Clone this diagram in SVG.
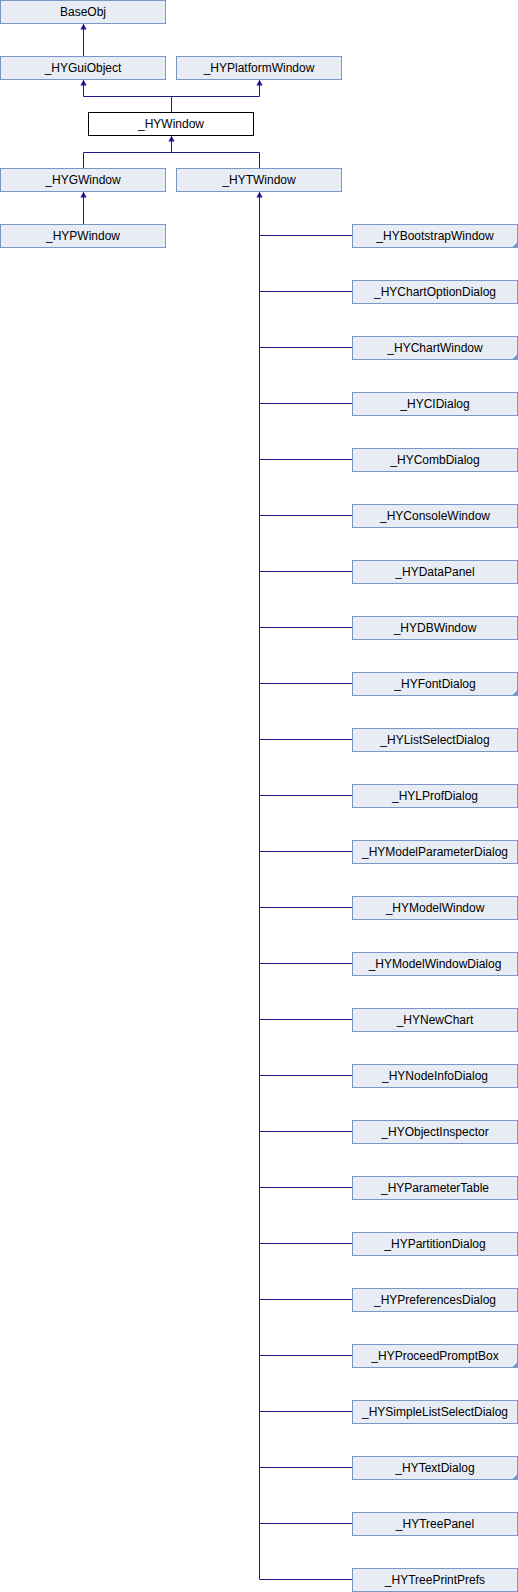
<svg xmlns="http://www.w3.org/2000/svg" width="518" height="1592" viewBox="0 0 518 1592">
<style>
.n rect{fill:#e8ecf4;stroke:#7b96c8;stroke-width:1}
.n.cur rect{fill:#ffffff;stroke:#000000}
.n text{font-family:"Liberation Sans",Arial,sans-serif;font-size:12px;fill:#000;text-anchor:middle}
.tri{fill:#7b96c8}
#edges path{fill:none;stroke:#1a1a8a;stroke-width:1}
#edges polygon{fill:#1a1a8a}
</style>
<rect width="518" height="1592" fill="#ffffff"/>
<g id="edges">
<path d="M83.5 56 V28"/><polygon points="83.5,23.5 80.5,29.5 86.5,29.5"/>
<path d="M171.5 112 V96.5 M83.5 96.5 H259.5 M83.5 96.5 V84 M259.5 96.5 V84"/>
<polygon points="83.5,79.5 80.5,85.5 86.5,85.5"/><polygon points="259.5,79.5 256.5,85.5 262.5,85.5"/>
<path d="M83.5 168 V152.5 H259.5 V168 M171.5 152.5 V140"/>
<polygon points="171.5,135.5 168.5,141.5 174.5,141.5"/>
<path d="M83.5 224 V196"/><polygon points="83.5,191.5 80.5,197.5 86.5,197.5"/>
<path d="M259.5 1579.5 V196"/><polygon points="259.5,191.5 256.5,197.5 262.5,197.5"/>
<path d="M259.5 235.5 H352 M259.5 291.5 H352 M259.5 347.5 H352 M259.5 403.5 H352 M259.5 459.5 H352 M259.5 515.5 H352 M259.5 571.5 H352 M259.5 627.5 H352 M259.5 683.5 H352 M259.5 739.5 H352 M259.5 795.5 H352 M259.5 851.5 H352 M259.5 907.5 H352 M259.5 963.5 H352 M259.5 1019.5 H352 M259.5 1075.5 H352 M259.5 1131.5 H352 M259.5 1187.5 H352 M259.5 1243.5 H352 M259.5 1299.5 H352 M259.5 1355.5 H352 M259.5 1411.5 H352 M259.5 1467.5 H352 M259.5 1523.5 H352 M259.5 1579.5 H352"/>
</g>
<g id="BaseObj" class="n"><rect x="0.5" y="0.5" width="165" height="23"/><text x="83" y="16">BaseObj</text></g>
<g id="HYGuiObject" class="n"><rect x="0.5" y="56.5" width="165" height="23"/><text x="83" y="72">_HYGuiObject</text></g>
<g id="HYPlatformWindow" class="n"><rect x="176.5" y="56.5" width="165" height="23"/><text x="259" y="72">_HYPlatformWindow</text></g>
<g id="HYWindow" class="n cur"><rect x="88.5" y="112.5" width="165" height="23"/><text x="171" y="128">_HYWindow</text></g>
<g id="HYGWindow" class="n"><rect x="0.5" y="168.5" width="165" height="23"/><text x="83" y="184">_HYGWindow</text></g>
<g id="HYTWindow" class="n"><rect x="176.5" y="168.5" width="165" height="23"/><text x="259" y="184">_HYTWindow</text></g>
<g id="HYPWindow" class="n"><rect x="0.5" y="224.5" width="165" height="23"/><text x="83" y="240">_HYPWindow</text></g>
<g id="HYBootstrapWindow" class="n"><rect x="352.5" y="224.5" width="165" height="23"/><text x="435" y="240">_HYBootstrapWindow</text><polygon class="tri" points="512,247.5 517.5,242 517.5,247.5"/></g>
<g id="HYChartOptionDialog" class="n"><rect x="352.5" y="280.5" width="165" height="23"/><text x="435" y="296">_HYChartOptionDialog</text></g>
<g id="HYChartWindow" class="n"><rect x="352.5" y="336.5" width="165" height="23"/><text x="435" y="352">_HYChartWindow</text><polygon class="tri" points="512,359.5 517.5,354 517.5,359.5"/></g>
<g id="HYCIDialog" class="n"><rect x="352.5" y="392.5" width="165" height="23"/><text x="435" y="408">_HYCIDialog</text></g>
<g id="HYCombDialog" class="n"><rect x="352.5" y="448.5" width="165" height="23"/><text x="435" y="464">_HYCombDialog</text></g>
<g id="HYConsoleWindow" class="n"><rect x="352.5" y="504.5" width="165" height="23"/><text x="435" y="520">_HYConsoleWindow</text></g>
<g id="HYDataPanel" class="n"><rect x="352.5" y="560.5" width="165" height="23"/><text x="435" y="576">_HYDataPanel</text></g>
<g id="HYDBWindow" class="n"><rect x="352.5" y="616.5" width="165" height="23"/><text x="435" y="632">_HYDBWindow</text></g>
<g id="HYFontDialog" class="n"><rect x="352.5" y="672.5" width="165" height="23"/><text x="435" y="688">_HYFontDialog</text><polygon class="tri" points="512,695.5 517.5,690 517.5,695.5"/></g>
<g id="HYListSelectDialog" class="n"><rect x="352.5" y="728.5" width="165" height="23"/><text x="435" y="744">_HYListSelectDialog</text></g>
<g id="HYLProfDialog" class="n"><rect x="352.5" y="784.5" width="165" height="23"/><text x="435" y="800">_HYLProfDialog</text></g>
<g id="HYModelParameterDialog" class="n"><rect x="352.5" y="840.5" width="165" height="23"/><text x="435" y="856">_HYModelParameterDialog</text></g>
<g id="HYModelWindow" class="n"><rect x="352.5" y="896.5" width="165" height="23"/><text x="435" y="912">_HYModelWindow</text></g>
<g id="HYModelWindowDialog" class="n"><rect x="352.5" y="952.5" width="165" height="23"/><text x="435" y="968">_HYModelWindowDialog</text></g>
<g id="HYNewChart" class="n"><rect x="352.5" y="1008.5" width="165" height="23"/><text x="435" y="1024">_HYNewChart</text></g>
<g id="HYNodeInfoDialog" class="n"><rect x="352.5" y="1064.5" width="165" height="23"/><text x="435" y="1080">_HYNodeInfoDialog</text></g>
<g id="HYObjectInspector" class="n"><rect x="352.5" y="1120.5" width="165" height="23"/><text x="435" y="1136">_HYObjectInspector</text></g>
<g id="HYParameterTable" class="n"><rect x="352.5" y="1176.5" width="165" height="23"/><text x="435" y="1192">_HYParameterTable</text></g>
<g id="HYPartitionDialog" class="n"><rect x="352.5" y="1232.5" width="165" height="23"/><text x="435" y="1248">_HYPartitionDialog</text></g>
<g id="HYPreferencesDialog" class="n"><rect x="352.5" y="1288.5" width="165" height="23"/><text x="435" y="1304">_HYPreferencesDialog</text></g>
<g id="HYProceedPromptBox" class="n"><rect x="352.5" y="1344.5" width="165" height="23"/><text x="435" y="1360">_HYProceedPromptBox</text><polygon class="tri" points="512,1367.5 517.5,1362 517.5,1367.5"/></g>
<g id="HYSimpleListSelectDialog" class="n"><rect x="352.5" y="1400.5" width="165" height="23"/><text x="435" y="1416">_HYSimpleListSelectDialog</text></g>
<g id="HYTextDialog" class="n"><rect x="352.5" y="1456.5" width="165" height="23"/><text x="435" y="1472">_HYTextDialog</text><polygon class="tri" points="512,1479.5 517.5,1474 517.5,1479.5"/></g>
<g id="HYTreePanel" class="n"><rect x="352.5" y="1512.5" width="165" height="23"/><text x="435" y="1528">_HYTreePanel</text></g>
<g id="HYTreePrintPrefs" class="n"><rect x="352.5" y="1568.5" width="165" height="23"/><text x="435" y="1584">_HYTreePrintPrefs</text></g>
</svg>
